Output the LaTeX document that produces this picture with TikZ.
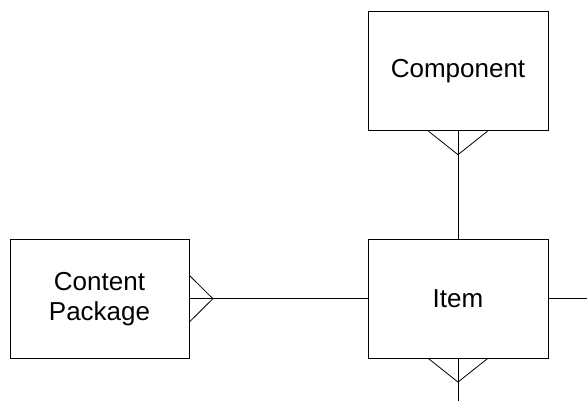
\documentclass[tikz,border=0pt]{standalone}
\usepackage{fontspec}
\setmainfont{Liberation Sans}
\usetikzlibrary{positioning,calc}
\tikzset{
  every picture/.style={x=1pt, y=1pt, line width=0.8pt},
  entity/.style={draw, minimum width=180pt, minimum height=119pt,
    inner sep=0pt, align=center, font=\fontsize{26}{30}\selectfont},
}
\def\cfl{23.5}
\def\cfw{29.5}

\begin{document}
\begin{tikzpicture}
  \path[use as bounding box] (0,0) rectangle (587,401);
  \node[entity] (item) at (458,102.3) {Item};
  \node[entity] (comp) at (458,329.7) {Component};
  \node[entity, minimum width=179pt] (pkg) at (99.5,102.3) {Content\\Package};
  \coordinate (rend) at (587,102.3);
  \coordinate (bend) at (458,0);
  % relationships
  \draw (comp.south) -- (item.north);
  \draw ($(comp.south)+(-\cfw,0)$) -- ($(comp.south)+(0,-\cfl)$) -- ($(comp.south)+(\cfw,0)$);
  \draw (pkg.east) -- (item.west);
  \draw ($(pkg.east)+(0,23.3)$) -- ($(pkg.east)+(\cfl,0)$) -- ($(pkg.east)+(0,-23.3)$);
  \draw (item.east) -- (rend);
  \draw (item.south) -- (bend);
  \draw ($(item.south)+(-\cfw,0)$) -- ($(item.south)+(0,-\cfl)$) -- ($(item.south)+(\cfw,0)$);
\end{tikzpicture}
\end{document}
